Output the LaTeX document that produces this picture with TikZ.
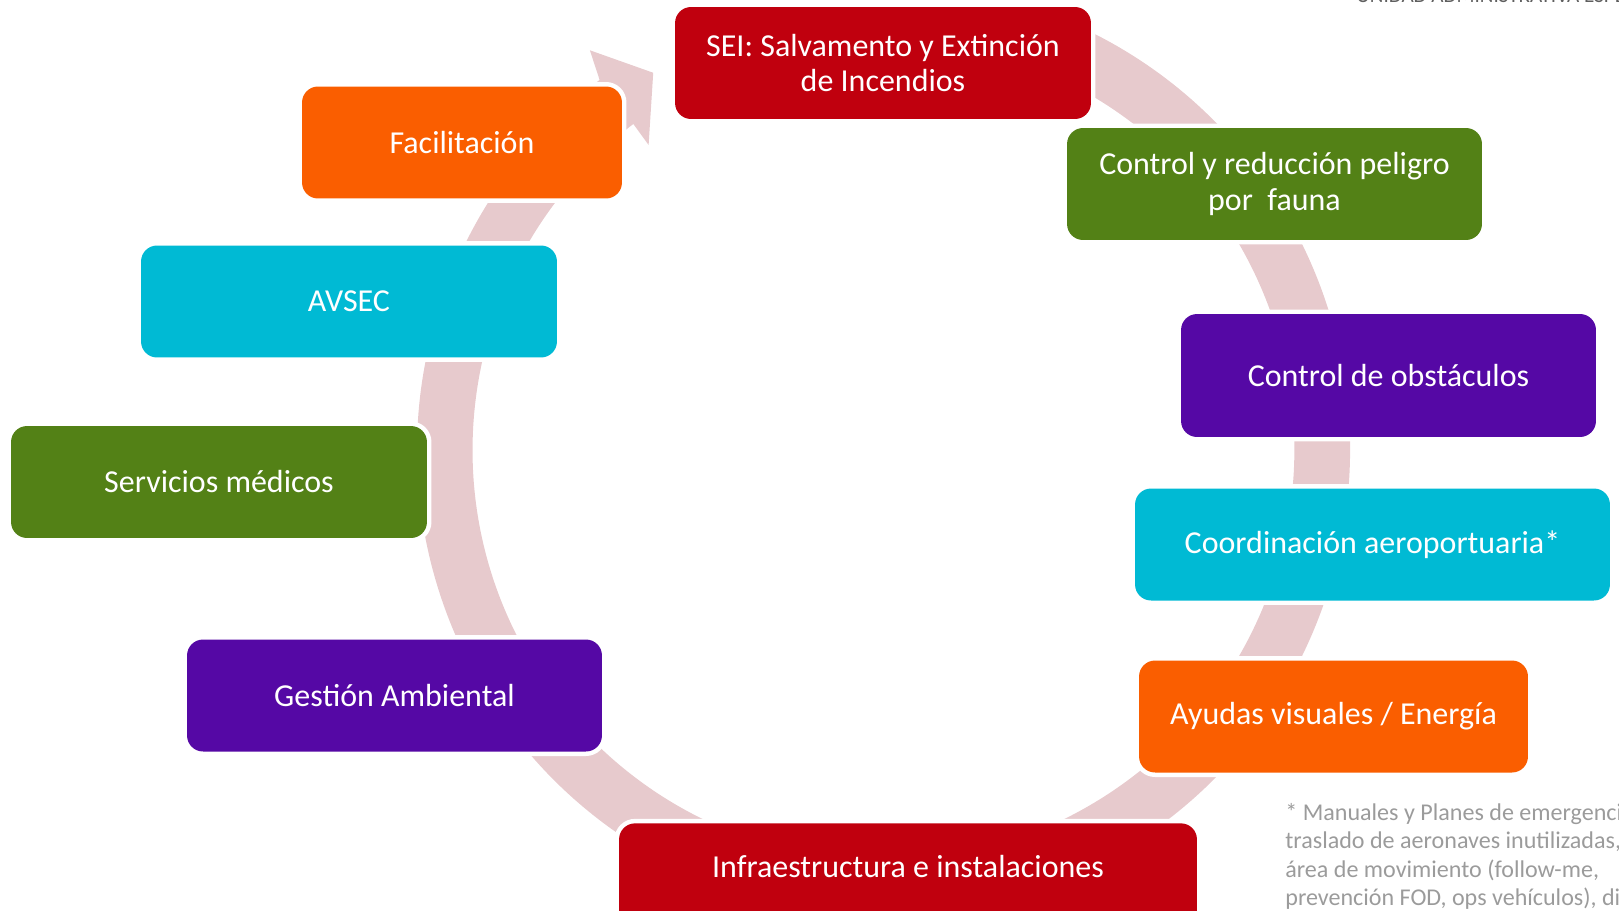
\documentclass[tikz,border=0pt]{standalone}
\usepackage{fontspec}
\setmainfont{Carlito}
\usepackage{tikz}
\usetikzlibrary{calc}
\definecolor{rojo}{RGB}{192,0,14}
\definecolor{naranja}{RGB}{250,94,0}
\definecolor{verde}{RGB}{83,129,22}
\definecolor{cian}{RGB}{0,186,212}
\definecolor{morado}{RGB}{85,8,165}
\definecolor{anillo}{RGB}{231,202,205}
\definecolor{notagris}{RGB}{155,155,155}
\definecolor{cabgris}{RGB}{95,95,95}

\begin{document}
\begin{tikzpicture}[x=0.02cm,y=-0.02cm,
caja/.style={rectangle, rounded corners=0.32cm, fill=#1, text=white, align=center,
  minimum width=8.32cm, minimum height=2.24cm, inner sep=0pt,
  font=\fontsize{18.2}{20}\selectfont,
  preaction={draw=white, line width=0.18cm}},
nota/.style={text=notagris, align=left, inner sep=0pt,
  font=\fontsize{13.7}{16.1}\selectfont}]
\path[use as bounding box, clip] (0,0) rectangle (1619,910);

\begin{scope}[shift={(883.5,450)}, x=0.02cm, y=0.02cm]
\fill[anillo] (71:466.5) arc[start angle=71, end angle=-232.5, radius=9.33cm]
  -- (-233.7:496) -- (-238.6:442) -- (-232.4:385) -- (-232.5:411)
  arc[start angle=-232.5, end angle=71, radius=8.22cm] -- cycle;
\end{scope}

\node[caja=rojo] (sei) at (883,63) {SEI: Salvamento y Extinción\\de Incendios};
\node[caja=naranja, minimum width=6.4cm] (facilitacion) at (462,142.5) {Facilitación};
\node[caja=verde, minimum width=8.3cm] (fauna) at (1274.5,184) {Control y reducción peligro\\por~~fauna};
\node[caja=cian] (avsec) at (349,301.5) {AVSEC};
\node[caja=morado, minimum width=8.3cm, minimum height=2.46cm] (obstaculos) at (1388.5,375.5) {Control de obstáculos};
\node[caja=verde] (medicos) at (219,482) {Servicios médicos};
\node[caja=cian, minimum width=9.5cm] (coordinacion) at (1372.5,544.5) {Coordinación aeroportuaria*};
\node[caja=naranja, minimum width=7.78cm] (ayudas) at (1333.5,716.5) {Ayudas visuales / Energía};
\node[caja=morado, minimum width=8.3cm] (gestion) at (394.5,695.5) {Gestión Ambiental};
\node[caja=rojo, minimum width=11.56cm, anchor=north, text height=1.08cm, text depth=2cm] (infra) at (908,823) {Infraestructura e instalaciones};

\node[nota, anchor=north west] (nota) at (1285,803) {* Manuales y Planes de emergencia\\traslado de aeronaves inutilizadas,\\área de movimiento (follow-me,\\prevención FOD, ops vehículos), di};
\node[text=cabgris, inner sep=0pt, anchor=base west, font=\fontsize{12}{14}\selectfont] (cabecera) at (1356,2) {UNIDAD ADMINISTRATIVA ESPECIAL};
\end{tikzpicture}
\end{document}
